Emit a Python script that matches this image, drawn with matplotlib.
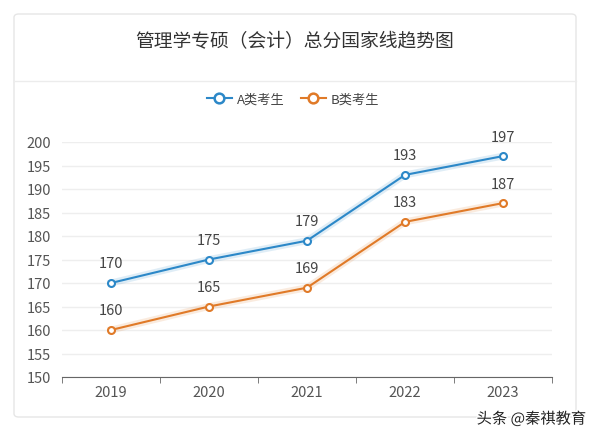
import matplotlib
matplotlib.use('Agg')
import matplotlib.pyplot as plt
import matplotlib.patheffects as pe
from matplotlib.patches import FancyBboxPatch
from matplotlib.lines import Line2D

plt.rcParams['font.family'] = ['Noto Sans CJK SC', 'DejaVu Sans']

years = ['2019', '2020', '2021', '2022', '2023']
scoreA = [170, 175, 179, 193, 197]
scoreB = [160, 165, 169, 183, 187]
seriesNames = ['A类考生', 'B类考生']
title = '管理学专硕（会计）总分国家线趋势图'

blue = '#2c88c8'
orange = '#e07a28'
W, H = 600, 435

fig = plt.figure(figsize=(6, 4.35), dpi=100)
fig.patch.set_facecolor('white')

# card frame, drawn behind the axes
card = FancyBboxPatch((14/W, 1-418/H), (576-14)/W, (418-15)/H,
                      boxstyle='round,pad=0,rounding_size=0.008',
                      transform=fig.transFigure, facecolor='white',
                      edgecolor='#e6e6e6', linewidth=1.0, zorder=-10)
fig.patches.append(card)
fig.lines.append(Line2D([14/W, 576/W], [1-82/H, 1-82/H], transform=fig.transFigure,
                        color='#ececec', linewidth=1.0, zorder=-9))
fig.text(295/W, 1-42/H, title, ha='center', va='center', fontsize=13.5, color='#333333')

ax = fig.add_axes([62/W, 1-378/H, (552-62)/W, (378-143)/H])
x = range(len(years))
for vals, c, name in [(scoreA, blue, seriesNames[0]), (scoreB, orange, seriesNames[1])]:
    ax.plot(x, vals, color=c, alpha=0.15, linewidth=5, zorder=2)
    ax.plot(x, vals, color=c, linewidth=1.5, marker='o', markersize=5,
            markerfacecolor='white', markeredgecolor=c, markeredgewidth=1.5,
            label=name, zorder=3)
    for i, v in zip(x, vals):
        ax.annotate(str(v), (i, v), xytext=(0, 9), textcoords='offset points',
                    ha='center', va='bottom', fontsize=10.5, color='#444444')

ax.set_xlim(-0.5, len(years)-0.5)
ax.set_ylim(150, 200)
ax.set_yticks(range(150, 201, 5))
ax.set_xticks(list(x))
ax.set_xticklabels(years)
ax.set_xticks([i - 0.5 for i in range(len(years)+1)], minor=True)
ax.tick_params(axis='x', which='major', length=0, pad=6, labelsize=10.5, labelcolor='#555555')
ax.tick_params(axis='x', which='minor', length=4, color='#666666', direction='out')
ax.tick_params(axis='y', length=0, pad=8, labelsize=10.5, labelcolor='#555555')
ax.grid(axis='y', color='#eeeeee', linewidth=1.0)
ax.set_axisbelow(True)
for s in ['top', 'right', 'left']:
    ax.spines[s].set_visible(False)
ax.spines['bottom'].set_color('#666666')
ax.patch.set_alpha(0)

handles = [Line2D([], [], color=c, linewidth=1.5, marker='o', markersize=7,
                  markerfacecolor='white', markeredgecolor=c, markeredgewidth=1.8)
           for c in (blue, orange)]
fig.legend(handles, seriesNames, loc='center', bbox_to_anchor=(293/W, 1-100/H), ncol=2,
           frameon=False, fontsize=9.5, handlelength=1.9, columnspacing=1.2,
           handletextpad=0.4, labelcolor='#444444')

fig.text(586/W, 1-420/H, '头条 @秦祺教育', ha='right', va='center', fontsize=11,
         color='#222222', path_effects=[pe.withStroke(linewidth=2, foreground='white')])

fig.savefig('out.png', dpi=100)
